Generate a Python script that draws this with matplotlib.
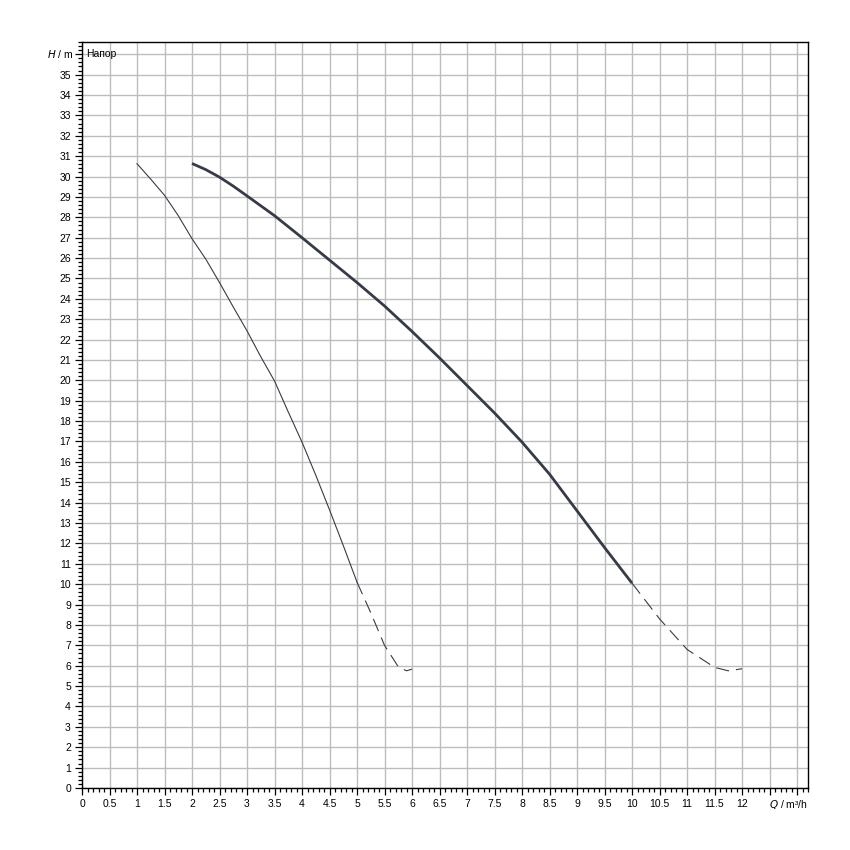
import matplotlib
matplotlib.use("Agg")
import matplotlib.pyplot as plt
from matplotlib.ticker import MultipleLocator, FixedLocator

plt.rcParams['font.family'] = ['Liberation Sans', 'DejaVu Sans']
plt.rcParams['lines.scale_dashes'] = False

# Curve 1 (thin)
q1_solid = [1.0, 1.25, 1.5, 1.75, 2.0, 2.25, 2.5, 2.75, 3.0, 3.25, 3.5, 3.75, 4.0, 4.25, 4.5, 4.75, 5.0]
h1_solid = [30.63, 29.87, 29.08, 28.08, 26.95, 25.95, 24.8, 23.6, 22.43, 21.16, 19.97, 18.45, 16.97, 15.35, 13.65, 11.9, 10.1]
q1_dash = [5.0, 5.25, 5.5, 5.75, 5.9, 6.0]
h1_dash = [10.1, 8.6, 7.0, 5.95, 5.75, 5.83]

# Curve 2 (thick)
q2_solid = [2.0, 2.25, 2.5, 2.75, 3.0, 3.5, 4.0, 4.5, 5.0, 5.5, 6.0, 6.5, 7.0, 7.5, 8.0, 8.5, 9.0, 9.5, 10.0]
h2_solid = [30.64, 30.34, 29.97, 29.53, 29.05, 28.08, 27.0, 25.9, 24.8, 23.65, 22.4, 21.1, 19.75, 18.4, 16.97, 15.4, 13.6, 11.8, 10.05]
q2_dash = [10.0, 10.5, 11.0, 11.5, 11.75, 12.0]
h2_dash = [10.05, 8.3, 6.8, 5.92, 5.75, 5.85]

x_ticks = [i * 0.5 for i in range(27)]
x_labels = ['0', '0.5', '1', '1.5', '2', '2.5', '3', '3.5', '4', '4.5', '5', '5.5', '6', '6.5',
            '7', '7.5', '8', '8.5', '9', '9.5', '10', '10.5', '11', '11.5', '12', '', '']
y_ticks = list(range(37))
y_labels = [str(i) for i in range(36)] + ['']

fig = plt.figure(figsize=(8.5, 8.5), dpi=100)
ax = fig.add_axes([82/850, 1 - 788/850, (808 - 82)/850, (788 - 42)/850])

line_col = '#363c47'
ax.plot(q1_solid, h1_solid, color=line_col, lw=0.8, zorder=3)
ax.plot(q1_dash, h1_dash, color=line_col, lw=0.8, dashes=(9.5, 5), zorder=3)
ax.plot(q2_solid, h2_solid, color=line_col, lw=2.0, zorder=3, solid_capstyle='butt')
ax.plot(q2_dash, h2_dash, color=line_col, lw=0.8, dashes=(9.5, 5), zorder=3)

ax.set_xlim(0, 13.2)
ax.set_ylim(0, 36.6)
ax.xaxis.set_major_locator(FixedLocator(x_ticks))
ax.set_xticklabels(x_labels)
ax.xaxis.set_minor_locator(MultipleLocator(0.1))
ax.yaxis.set_major_locator(FixedLocator(y_ticks))
ax.set_yticklabels(y_labels)
ax.yaxis.set_minor_locator(MultipleLocator(0.2))

ax.grid(True, which='major', color='#bdbdbd', lw=1.0)
ax.set_axisbelow(True)
ax.tick_params(which='major', length=5, width=0.9, color='black', labelsize=7.5, pad=3)
ax.tick_params(which='minor', length=3, width=0.9, color='black')
for s in ax.spines.values():
    s.set_color('black')
    s.set_linewidth(1.0)

ax.text(-0.012, 36, r'$\mathit{H}$ / m', transform=ax.get_yaxis_transform(),
        ha='right', va='center', fontsize=7.5)
ax.text(0.006, 36, 'Напор', transform=ax.get_yaxis_transform(),
        ha='left', va='center', fontsize=7.5)
ax.text(1.0, -0.022, r'$\mathit{Q}$ / m³/h', transform=ax.transAxes,
        ha='right', va='center', fontsize=7.5)

fig.savefig('out.png', dpi=100)
